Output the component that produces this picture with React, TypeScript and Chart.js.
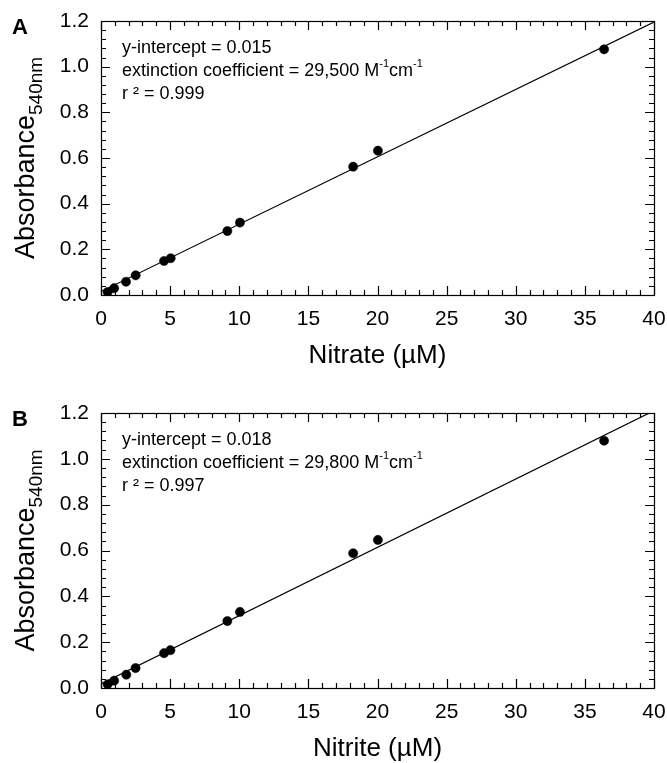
import React, { useEffect, useRef } from 'react';
import { Chart, registerables } from 'chart.js';

Chart.register(...registerables);

// ---- data ----
const xTickLabels = [0, 5, 10, 15, 20, 25, 30, 35, 40];
const yTickLabels = [0.0, 0.2, 0.4, 0.6, 0.8, 1.0, 1.2];

const nitrateConc = [0.48, 0.95, 1.81, 2.51, 4.56, 5.04, 9.14, 10.05, 18.24, 20.03, 36.39];
const nitrateAbs = [0.013, 0.030, 0.058, 0.086, 0.149, 0.161, 0.280, 0.317, 0.562, 0.632, 1.076];

const nitriteConc = [0.48, 0.95, 1.83, 2.50, 4.56, 5.02, 9.14, 10.05, 18.24, 20.03, 36.39];
const nitriteAbs = [0.016, 0.032, 0.058, 0.087, 0.152, 0.165, 0.292, 0.332, 0.588, 0.646, 1.079];

const fitConc = [0, 40];
const nitrateFit = [0.015, 1.195];
const nitriteFit = [0.018, 1.21];

const nitrateNotes = ['y-intercept = 0.015', '29,500', 'r \u00B2 = 0.999'];
const nitriteNotes = ['y-intercept = 0.018', '29,800', 'r \u00B2 = 0.997'];

const FONT = "'Liberation Sans', Arial, Helvetica, sans-serif";

const decorPlugin = {
  id: 'decor',
  afterDatasetsDraw(chart: any, _args: any, opts: any) {
    const { ctx, chartArea: ca, scales } = chart;
    const xs = scales.x;
    const ys = scales.y;
    ctx.save();
    ctx.strokeStyle = '#000';
    ctx.lineWidth = 1.2;
    ctx.strokeRect(Math.round(ca.left) + 0.5, Math.round(ca.top) + 0.5, Math.round(ca.right - ca.left), Math.round(ca.bottom - ca.top));
    ctx.beginPath();
    // x ticks: major every 5, minor every 1
    for (let v = xs.min; v <= xs.max + 1e-9; v += 1) {
      const px = Math.round(xs.getPixelForValue(v)) + 0.5;
      const len = Math.abs(v % 5) < 1e-9 ? 9 : 5;
      ctx.moveTo(px, ca.bottom);
      ctx.lineTo(px, ca.bottom - len);
      ctx.moveTo(px, ca.top);
      ctx.lineTo(px, ca.top + len);
    }
    // y ticks: major every 0.2, minor every 0.04
    for (let i = 0; i <= 30; i++) {
      const v = i * 0.04;
      const py = Math.round(ys.getPixelForValue(v)) + 0.5;
      const len = i % 5 === 0 ? 9 : 5;
      ctx.moveTo(ca.left, py);
      ctx.lineTo(ca.left + len, py);
      ctx.moveTo(ca.right, py);
      ctx.lineTo(ca.right - len, py);
    }
    ctx.stroke();

    ctx.fillStyle = '#000';
    // panel letter
    ctx.font = `bold 22px ${FONT}`;
    ctx.textAlign = 'left';
    ctx.textBaseline = 'middle';
    ctx.fillText(opts.letter, 12, ca.top + 7);

    // annotations
    const tx = ca.left + 21;
    const ty = ca.top + 27;
    const lh = 23;
    ctx.font = `18px ${FONT}`;
    ctx.fillText(opts.notes[0], tx, ty);
    let cx = tx;
    const seg = (t: string, size: number, dy: number) => {
      ctx.font = `${size}px ${FONT}`;
      ctx.fillText(t, cx, ty + lh + dy);
      cx += ctx.measureText(t).width;
    };
    seg(`extinction coefficient = ${opts.notes[1]} M`, 18, 0);
    seg('-1', 11, -7);
    seg('cm', 18, 0);
    seg('-1', 11, -7);
    ctx.font = `18px ${FONT}`;
    ctx.fillText(opts.notes[2], tx, ty + 2 * lh);

    // x title
    ctx.font = `26px ${FONT}`;
    ctx.textAlign = 'center';
    ctx.textBaseline = 'middle';
    ctx.fillText(opts.xTitle, (ca.left + ca.right) / 2, ca.bottom + 61);

    // y title rotated with subscript
    const cy = (ca.top + ca.bottom) / 2;
    ctx.translate(34, cy);
    ctx.rotate(-Math.PI / 2);
    ctx.textAlign = 'left';
    ctx.textBaseline = 'alphabetic';
    ctx.font = `27px ${FONT}`;
    const w1 = ctx.measureText('Absorbance').width;
    ctx.font = `19px ${FONT}`;
    const w2 = ctx.measureText('540nm').width;
    const start = -(w1 + w2) / 2;
    ctx.font = `27px ${FONT}`;
    ctx.fillText('Absorbance', start, 0);
    ctx.font = `19px ${FONT}`;
    ctx.fillText('540nm', start + w1, 8);
    ctx.restore();
  },
};

type PanelProps = {
  height: number;
  top: number;
  xHeight: number;
  letter: string;
  xTitle: string;
  conc: number[];
  abs: number[];
  fit: number[];
  notes: string[];
};

function Panel(p: PanelProps) {
  const ref = useRef<HTMLCanvasElement | null>(null);
  useEffect(() => {
    if (!ref.current) return;
    const chart = new Chart(ref.current, {
      type: 'scatter',
      data: {
        datasets: [
          {
            data: fitConc.map((x, i) => ({ x, y: p.fit[i] })),
            showLine: true,
            borderColor: '#000',
            borderWidth: 1.2,
            pointRadius: 0,
            clip: 0,
          } as any,
          {
            data: p.conc.map((x, i) => ({ x, y: p.abs[i] })),
            backgroundColor: '#000',
            borderColor: '#000',
            borderWidth: 0.5,
            pointRadius: 4.6,
          },
        ],
      },
      options: {
        animation: false,
        responsive: false,
        devicePixelRatio: 1,
        layout: { padding: { top: p.top, right: 13, left: 0, bottom: 0 } },
        plugins: {
          legend: { display: false },
          tooltip: { enabled: false },
          decor: { letter: p.letter, xTitle: p.xTitle, notes: p.notes },
        } as any,
        scales: {
          x: {
            type: 'linear',
            min: xTickLabels[0],
            max: xTickLabels[xTickLabels.length - 1],
            grid: { display: false, drawTicks: false },
            border: { display: false },
            afterFit: (s: any) => {
              s.height = p.xHeight;
              s.paddingLeft = 0;
              s.paddingRight = 0;
            },
            afterBuildTicks: (s: any) => {
              s.ticks = xTickLabels.map((v) => ({ value: v }));
            },
            ticks: {
              color: '#000',
              font: { family: FONT, size: 21 },
              padding: 12,
              maxRotation: 0,
              autoSkip: false,
              callback: (v: any) => String(v),
            },
          },
          y: {
            type: 'linear',
            min: yTickLabels[0],
            max: yTickLabels[yTickLabels.length - 1],
            grid: { display: false, drawTicks: false },
            border: { display: false },
            afterFit: (s: any) => {
              s.width = 101;
              s.paddingTop = 0;
              s.paddingBottom = 0;
            },
            afterBuildTicks: (s: any) => {
              s.ticks = yTickLabels.map((v) => ({ value: v }));
            },
            ticks: {
              color: '#000',
              font: { family: FONT, size: 21 },
              padding: 12,
              autoSkip: false,
              callback: (v: any) => Number(v).toFixed(1),
            },
          },
        },
      },
      plugins: [decorPlugin],
    });
    return () => chart.destroy();
  }, []);
  return <canvas ref={ref} width={667} height={p.height} style={{ display: 'block', width: 667, height: p.height }} />;
}

export default function App() {
  return (
    <div style={{ position: 'absolute', left: 0, top: 0, width: 667, height: 763, background: '#fff' }}>
      <Panel height={380} top={21} xHeight={85} letter="A" xTitle={'Nitrate (\u00B5M)'} conc={nitrateConc} abs={nitrateAbs} fit={nitrateFit} notes={nitrateNotes} />
      <Panel height={383} top={33} xHeight={75} letter="B" xTitle={'Nitrite (\u00B5M)'} conc={nitriteConc} abs={nitriteAbs} fit={nitriteFit} notes={nitriteNotes} />
    </div>
  );
}
